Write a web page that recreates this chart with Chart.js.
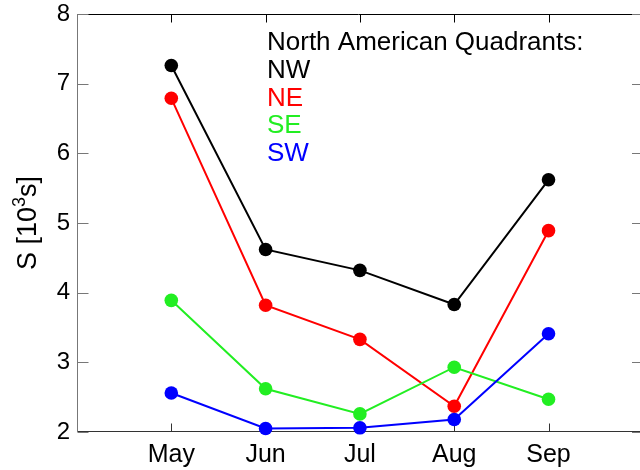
<!DOCTYPE html>
<html>
<head>
<meta charset="utf-8">
<script src="https://cdn.jsdelivr.net/npm/chart.js@4"></script>
<style>
  html, body { margin: 0; padding: 0; background: #fff; }
  canvas { display: block; }
</style>
</head>
<body>
<canvas id="quadChart" width="640" height="470"></canvas>
<script>
// month number on the x axis (Apr = 4 ... Oct = 10)
const months = [5, 6, 7, 8, 9];
const monthNames = ["May", "Jun", "Jul", "Aug", "Sep"];
const yTicks = [2, 3, 4, 5, 6, 7, 8];

const nw = [7.26, 4.62, 4.32, 3.83, 5.62];
const ne = [6.79, 3.82, 3.33, 2.37, 4.89];
const se = [3.89, 2.62, 2.26, 2.93, 2.47];
const sw = [2.56, 2.05, 2.06, 2.18, 3.41];

const legendTitle = "North American Quadrants:";
const FONT = "'Liberation Sans', Arial, Helvetica, sans-serif";

const canvas = document.getElementById("quadChart");
const context = canvas.getContext("2d");

const makeSet = (label, values, color, order) => ({
  label: label,
  data: months.map((m, i) => ({ x: m, y: values[i] })),
  borderColor: color,
  backgroundColor: color,
  pointBackgroundColor: color,
  pointBorderColor: color,
  borderWidth: 2,
  pointRadius: 6.8,
  pointBorderWidth: 0,
  tension: 0,
  clip: false,
  order: order,
});

// draws the box and inward tick marks under the lines
const framePlugin = {
  id: "frame",
  beforeDatasetsDraw(chart) {
    const { ctx, chartArea: a, scales } = chart;
    const x = scales.x, y = scales.y;
    ctx.save();
    ctx.lineWidth = 1;
    const seg = (x1, y1, x2, y2, c) => {
      ctx.strokeStyle = c;
      ctx.beginPath();
      ctx.moveTo(x1, y1);
      ctx.lineTo(x2, y2);
      ctx.stroke();
    };
    const top = Math.round(a.top) + 0.5;
    const bottom = Math.round(a.bottom) - 0.5;
    const left = Math.round(a.left) + 0.5;
    seg(a.left, top, a.right, top, "#000");
    seg(a.left, bottom, a.right, bottom, "#333");
    seg(left, a.top, left, a.bottom, "#777");
    months.forEach((m) => {
      const px = Math.round(x.getPixelForValue(m)) + 0.5;
      seg(px, top, px, top + 8, "#000");
      seg(px, bottom, px, bottom - 8, "#333");
    });
    yTicks.forEach((v) => {
      const py = Math.round(y.getPixelForValue(v)) + 0.5;
      seg(left, py, left + 11, py, "#777");
      seg(a.right, py, a.right - 8, py, "#777");
    });
    ctx.restore();
  },
  afterDraw(chart) {
    const ctx = chart.ctx;
    const a = chart.chartArea;
    // y axis title, S [10^3 s] with a raised 3
    ctx.save();
    ctx.translate(36, (a.top + a.bottom) / 2);
    ctx.rotate(-Math.PI / 2);
    ctx.fillStyle = "#000";
    ctx.textBaseline = "alphabetic";
    ctx.textAlign = "left";
    const big = "27px " + FONT, small = "18px " + FONT;
    const parts = [["S [10", big, 0], ["3", small, -11], ["s]", big, 0]];
    let total = 0;
    parts.forEach((p) => { ctx.font = p[1]; total += ctx.measureText(p[0]).width; });
    let cx = -total / 2;
    parts.forEach((p) => {
      ctx.font = p[1];
      ctx.fillText(p[0], cx, p[2]);
      cx += ctx.measureText(p[0]).width;
    });
    ctx.restore();

    // text legend in the top right
    ctx.save();
    ctx.font = "26px " + FONT;
    ctx.textAlign = "left";
    ctx.textBaseline = "alphabetic";
    ctx.fillStyle = "#000";
    ctx.fillText(legendTitle, 267, 50);
    const sets = chart.data.datasets.slice().sort((p, q) => q.order - p.order);
    sets.forEach((ds, i) => {
      ctx.fillStyle = ds.borderColor;
      ctx.fillText(ds.label, 267, 78 + i * 27.7);
    });
    ctx.restore();
  },
};

const config = {
  type: "line",
  data: {
    datasets: [
      makeSet("NW", nw, "#000000", 3),
      makeSet("NE", ne, "#ff0000", 2),
      makeSet("SE", se, "#22ee22", 1),
      makeSet("SW", sw, "#0000ff", 0),
    ],
  },
  options: {
    responsive: false,
    animation: false,
    layout: { autoPadding: false, padding: { top: 14, right: 0, left: 0, bottom: 0 } },
    plugins: { legend: { display: false }, tooltip: { enabled: false } },
    scales: {
      x: {
        type: "linear",
        min: 4,
        max: 9.97,
        afterFit: (s) => {
          s.height = 38;
          s.paddingLeft = 0;
          s.paddingRight = 0;
        },
        afterBuildTicks: (s) => { s.ticks = months.map((m) => ({ value: m })); },
        ticks: {
          color: "#000",
          font: { family: FONT, size: 25 },
          padding: 8,
          maxRotation: 0,
          callback: (v) => monthNames[months.indexOf(v)] ?? "",
        },
        grid: { display: false, drawTicks: false },
        border: { display: false },
      },
      y: {
        min: 2,
        max: 8,
        afterFit: (s) => {
          s.width = 77;
          s.paddingTop = 0;
          s.paddingBottom = 0;
        },
        afterBuildTicks: (s) => { s.ticks = yTicks.map((v) => ({ value: v })); },
        ticks: { color: "#000", font: { family: FONT, size: 24 }, padding: 7 },
        grid: { display: false, drawTicks: false },
        border: { display: false },
      },
    },
  },
  plugins: [framePlugin],
};

const chart = new Chart(context, config);
</script>
</body>
</html>
